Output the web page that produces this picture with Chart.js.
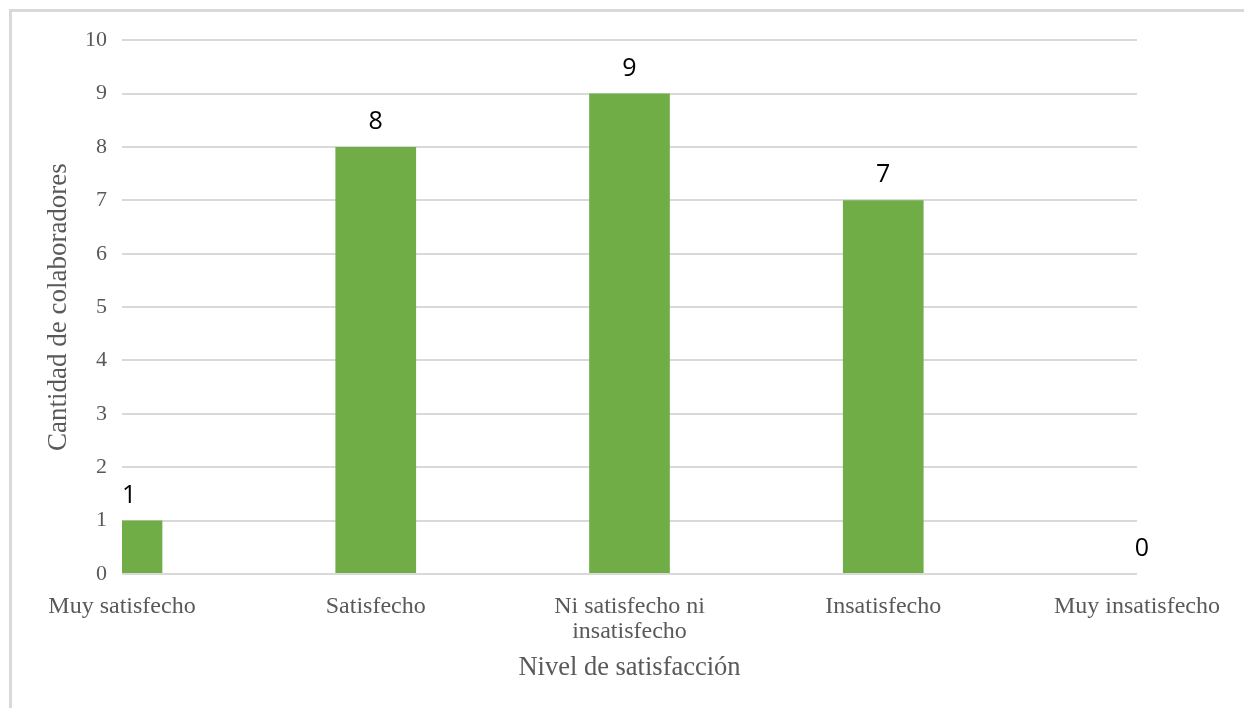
<!DOCTYPE html>
<html>
<head>
<meta charset="utf-8">
<script src="https://cdn.jsdelivr.net/npm/chart.js@4/dist/chart.umd.min.js"></script>
<style>
  html, body { margin: 0; padding: 0; background: #fff; overflow: hidden; }
  #frame {
    position: absolute; left: 9px; top: 9px;
    width: 1232px; height: 696px;
    border-left: 3px solid #d9d9d9; border-top: 3px solid #d9d9d9;
  }
</style>
</head>
<body>
<div id="frame"><canvas id="chart"></canvas></div>
<script>
// data
const categories = ['Muy satisfecho', 'Satisfecho', ['Ni satisfecho ni', 'insatisfecho'], 'Insatisfecho', 'Muy insatisfecho'];
const values = [1, 8, 9, 7, 0];
const yTicks = [0, 1, 2, 3, 4, 5, 6, 7, 8, 9, 10];

const serif = "'Liberation Serif', 'Times New Roman', serif";
const grey = '#595959';

// value labels above bars, kept inside plot area
const barLabels = {
  id: 'barLabels',
  afterDatasetsDraw(chart) {
    const ctx = chart.ctx;
    const area = chart.chartArea;
    const meta = chart.getDatasetMeta(0);
    ctx.save();
    ctx.font = "25px 'Open Sans', 'DejaVu Sans', sans-serif";
    ctx.fillStyle = '#000';
    ctx.textAlign = 'center';
    ctx.textBaseline = 'middle';
    meta.data.forEach((bar, i) => {
      const txt = String(values[i]);
      const w = ctx.measureText(txt).width;
      let x = bar.x;
      if (x - w / 2 < area.left) x = area.left + w / 2;
      if (i === values.length - 1) x += 5;
      ctx.fillText(txt, x, bar.y - 25);
    });
    ctx.restore();
  }
};

new Chart(document.getElementById('chart'), {
  type: 'bar',
  data: {
    labels: categories,
    datasets: [{
      data: values,
      backgroundColor: '#70ad47',
      barPercentage: 0.318,
      categoryPercentage: 1
    }]
  },
  options: {
    responsive: true,
    maintainAspectRatio: false,
    animation: false,
    layout: { padding: { top: 28, right: 107, left: 0, bottom: 0 } },
    plugins: {
      legend: { display: false },
      tooltip: { enabled: false }
    },
    scales: {
      x: {
        offset: false,
        grid: { display: false, drawTicks: false },
        border: { display: false },
        ticks: {
          color: grey,
          font: { family: serif, size: 24, lineHeight: 1.05 },
          padding: 20,
          maxRotation: 0,
          autoSkip: false
        },
        title: {
          display: true,
          text: 'Nivel de satisfacción',
          color: grey,
          font: { family: serif, size: 26.5 },
          padding: { top: 0, bottom: 24 }
        },
        afterFit: s => { s.height = 134; }
      },
      y: {
        min: 0,
        max: 10,
        afterBuildTicks: s => { s.ticks = yTicks.map(v => ({ value: v })); },
        grid: { color: '#d9d9d9', lineWidth: 2, drawTicks: false },
        border: { display: false },
        ticks: {
          color: grey,
          font: { family: serif, size: 22 },
          padding: 15
        },
        title: {
          display: true,
          text: 'Cantidad de colaboradores',
          color: grey,
          font: { family: serif, size: 27 },
          padding: { top: 31, bottom: 0 }
        },
        afterFit: s => { s.width = 110; }
      }
    }
  },
  plugins: [barLabels]
});
</script>
</body>
</html>
